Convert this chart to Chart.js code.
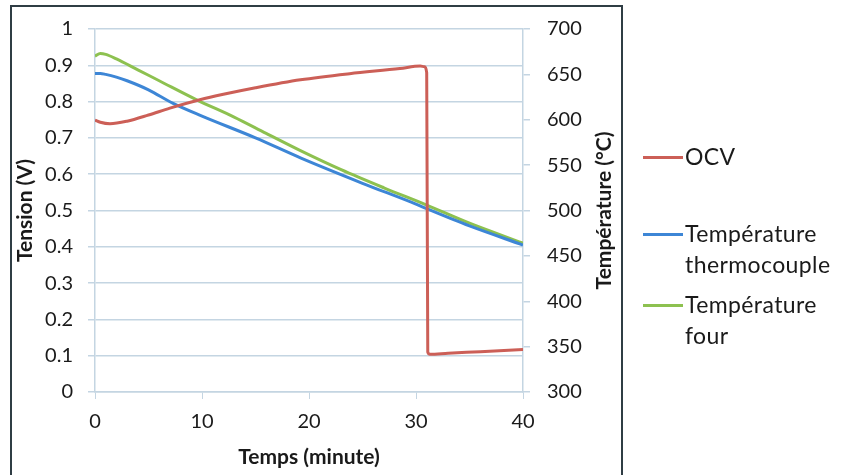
<!DOCTYPE html>
<html>
<head>
<meta charset="utf-8">
<script src="https://cdn.jsdelivr.net/npm/chart.js@4"></script>
<style>
  body { margin: 0; background: #fff; }
  #wrap { position: relative; width: 842px; height: 475px; }
  #frame { position: absolute; left: 10px; top: 5px; width: 613px; height: 472px; border: 2px solid #2f3d44; box-sizing: border-box; }
  #legend { position: absolute; left: 643px; top: 0; font-family: Lato, sans-serif; font-size: 23px; letter-spacing: 0.4px; color: #1a1a1a; }
  .item { position: absolute; left: 0; width: 200px; line-height: 31px; }
  .swatch { position: absolute; left: 0; top: 15px; width: 40px; height: 3px; }
  .label { position: absolute; left: 42px; top: 0; white-space: nowrap; }
</style>
</head>
<body>
<div id="wrap">
  <canvas id="myChart" width="842" height="475"></canvas>
  <div id="frame"></div>
  <div id="legend"></div>
</div>
<script>
// OCV (V)
const timeOCV = [0, 0.5, 1.4, 3, 5, 7, 9.8, 12, 15, 19.2, 23.8, 28.5, 30.4, 30.8, 31.0, 31.1, 31.3, 33, 36, 40];
const ocv = [0.749, 0.743, 0.739, 0.746, 0.763, 0.782, 0.805, 0.82, 0.838, 0.86, 0.877, 0.891, 0.898, 0.896, 0.88, 0.11, 0.104, 0.107, 0.111, 0.117];

// Température thermocouple (°C)
const timeThermo = [0, 0.5, 1, 2, 3, 5, 7.3, 10, 15, 19.2, 25, 30, 31, 35, 40];
const tempThermo = [651, 651, 650, 647, 643, 633, 618, 604, 580, 558, 530, 507, 502, 483, 462];

// Température four (°C)
const timeFour = [0, 0.5, 1, 2, 4, 6, 9.5, 13, 16, 19.2, 23, 27, 31, 35, 40];
const tempFour = [670, 673, 672, 667, 655, 643, 622, 603, 585, 566, 545, 525, 506, 486, 464];

const seriesNames = ["OCV", "Température thermocouple", "Température four"];
const legendLines = [["OCV"], ["Température", "thermocouple"], ["Température", "four"]];
const colors = ["#cc5f57", "#3d86d6", "#8dc150"];

const toPoints = (xs, ys) => xs.map((x, i) => ({ x: x, y: ys[i] }));

const gridColor = "#c4d5e2";
const tickFont = { family: "Lato, sans-serif", size: 20 };
const titleFont = "bold 21px Lato, sans-serif";

const axisTitles = {
  id: "axisTitles",
  afterDraw(chart) {
    const c = chart.ctx;
    const a = chart.chartArea;
    const midY = (a.top + a.bottom) / 2;
    c.save();
    c.fillStyle = "#1a1a1a";
    c.font = titleFont;
    c.textAlign = "center";
    c.textBaseline = "middle";
    c.fillText("Temps (minute)", (a.left + a.right) / 2, 457);
    c.translate(25, midY);
    c.rotate(-Math.PI / 2);
    c.fillText("Tension (V)", 0, 0);
    c.restore();
    c.save();
    c.fillStyle = "#1a1a1a";
    c.font = titleFont;
    c.textAlign = "center";
    c.textBaseline = "middle";
    c.translate(604, midY);
    c.rotate(-Math.PI / 2);
    c.fillText("Température (°C)", 0, 0);
    c.restore();
  },
};

const data = {
  datasets: [
    {
      label: seriesNames[0],
      data: toPoints(timeOCV, ocv),
      borderColor: colors[0],
      yAxisID: "y",
    },
    {
      label: seriesNames[1],
      data: toPoints(timeThermo, tempThermo),
      borderColor: colors[1],
      yAxisID: "y1",
    },
    {
      label: seriesNames[2],
      data: toPoints(timeFour, tempFour),
      borderColor: colors[2],
      yAxisID: "y1",
    },
  ],
};

const config = {
  type: "line",
  data,
  options: {
    responsive: false,
    animation: false,
    layout: { padding: { left: 10, right: 0, top: 25, bottom: 0 } },
    elements: {
      point: { radius: 0 },
      line: { borderWidth: 3, cubicInterpolationMode: "monotone", fill: false },
    },
    plugins: {
      legend: { display: false },
      tooltip: { enabled: false },
    },
    scales: {
      x: {
        type: "linear",
        min: 0,
        max: 40,
        ticks: { stepSize: 10, padding: 11, color: "#1a1a1a", font: tickFont, maxRotation: 0 },
        grid: { drawOnChartArea: false, drawTicks: true, tickLength: 7, color: gridColor },
        border: { color: gridColor, width: 1.5 },
        afterFit: (s) => { s.height = 83; },
      },
      y: {
        position: "left",
        min: 0,
        max: 1,
        ticks: {
          stepSize: 0.1,
          padding: 15,
          color: "#1a1a1a",
          font: tickFont,
          callback: (v) => String(Number(v.toFixed(1))),
        },
        grid: { color: gridColor, tickLength: 7, lineWidth: 1.5 },
        border: { color: gridColor, width: 1.5 },
        afterFit: (s) => { s.width = 85; },
      },
      y1: {
        position: "right",
        min: 300,
        max: 700,
        ticks: { stepSize: 50, padding: 17, color: "#1a1a1a", font: tickFont },
        grid: { drawOnChartArea: false, tickLength: 7, color: gridColor, lineWidth: 1.5 },
        border: { color: gridColor, width: 1.5 },
        afterFit: (s) => { s.width = 319; },
      },
    },
  },
  plugins: [axisTitles],
};

const ctx = document.querySelector("#myChart");
let myChart = new Chart(ctx, config);

// legend to the right, outside the frame
const legendTops = [141, 218, 289];
const legend = document.querySelector("#legend");
legendLines.forEach((lines, i) => {
  const item = document.createElement("div");
  item.className = "item";
  item.style.top = legendTops[i] + "px";
  item.innerHTML = `<div class="swatch" style="background:${colors[i]}"></div><div class="label">${lines.join("<br>")}</div>`;
  legend.appendChild(item);
});
</script>
</body>
</html>
